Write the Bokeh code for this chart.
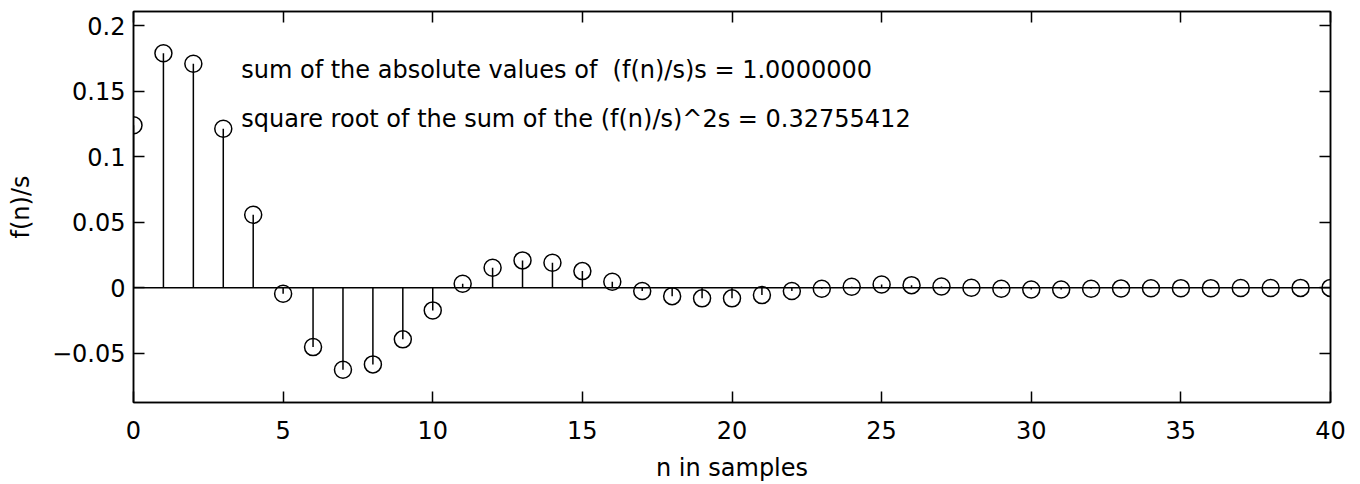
from bokeh.plotting import figure
from bokeh.models import LinearAxis, FixedTicker, CustomJSTickFormatter, Range1d, Label, ColumnDataSource
from bokeh.embed import file_html
from bokeh.resources import INLINE

# ---- data ----
n_samples = list(range(41))
f_over_s = [0.1240, 0.1790, 0.1710, 0.1214, 0.0557, -0.0046, -0.0453, -0.0626, -0.0585, -0.0394,
            -0.0173, 0.0030, 0.0153, 0.0209, 0.0191, 0.0127, 0.0046, -0.0025, -0.0064, -0.0081,
            -0.0081, -0.0056, -0.0025, -0.0008, 0.0008, 0.0025, 0.0020, 0.0010, 0.0000, -0.0008,
            -0.0013, -0.0013, -0.0008, -0.0005, -0.0004, -0.0003, -0.0003, -0.0002, -0.0002, -0.0001,
            -0.0001]
x_ticks = [0, 5, 10, 15, 20, 25, 30, 35, 40]
y_ticks = [-0.05, 0, 0.05, 0.1, 0.15, 0.2]
note_lines = ["sum of the absolute values of \u00a0(f(n)/s)s = 1.0000000",
              "square root of the sum of the (f(n)/s)^2s = 0.32755412"]
note_x = 3.6
note_y = [0.166, 0.129]

FONT = "DejaVu Sans"
FS = "24px"

p = figure(width=1360, height=484, output_backend="svg", toolbar_location=None,
           x_range=Range1d(0, 40), y_range=Range1d(-0.0876, 0.2109),
           min_border_left=133, min_border_right=30, min_border_top=11, min_border_bottom=82,
           x_axis_label="n in samples", y_axis_label="f(n)/s")
p.background_fill_color = "white"
p.border_fill_color = "white"
p.outline_line_color = "black"
p.outline_line_width = 1.5
p.xgrid.visible = False
p.ygrid.visible = False

fmt = CustomJSTickFormatter(code="""
const a = parseFloat(Math.abs(tick).toFixed(4)).toString();
return (tick < -1e-9 ? "\u2212" : "") + a;
""")
blank = CustomJSTickFormatter(code="return '';")

def style_axis(ax, ticks, show_labels=True):
    ax.ticker = FixedTicker(ticks=ticks)
    ax.minor_tick_line_color = None
    ax.major_tick_in = 11
    ax.major_tick_out = 0
    ax.major_tick_line_color = "black"
    ax.major_tick_line_width = 1.5
    ax.axis_line_color = "black"
    ax.axis_line_width = 1.5
    ax.major_label_text_font = FONT
    ax.major_label_text_color = "black"
    ax.major_label_text_font_size = FS
    if show_labels:
        ax.formatter = fmt
    else:
        ax.formatter = blank
        ax.major_label_standoff = 0

style_axis(p.xaxis[0], x_ticks)
style_axis(p.yaxis[0], y_ticks)
p.xaxis[0].major_label_standoff = 18
p.yaxis[0].major_label_standoff = 8
for ax in (p.xaxis[0], p.yaxis[0]):
    ax.axis_label_text_font = FONT
    ax.axis_label_text_font_size = FS
    ax.axis_label_text_font_style = "normal"
    ax.axis_label_text_color = "black"
p.xaxis[0].axis_label_standoff = 12
p.yaxis[0].axis_label_standoff = 14

top_ax = LinearAxis()
style_axis(top_ax, x_ticks, show_labels=False)
p.add_layout(top_ax, "above")
right_ax = LinearAxis()
style_axis(right_ax, y_ticks, show_labels=False)
p.add_layout(right_ax, "right")

src = ColumnDataSource(dict(n=n_samples, v=f_over_s, z=[0] * len(n_samples)))
# zero baseline
p.line(x=[n_samples[0], n_samples[-1]], y=[0, 0], line_color="black", line_width=1.5)
# stems
p.segment(x0="n", y0="z", x1="n", y1="v", source=src, line_color="black", line_width=1.5)
# markers
p.scatter(x="n", y="v", source=src, marker="circle", size=17, fill_color=None,
          line_color="black", line_width=1.5)

for txt, yy in zip(note_lines, note_y):
    p.add_layout(Label(x=note_x, y=yy, text=txt, text_font=FONT, text_font_size=FS,
                       text_baseline="middle", text_align="left", text_color="black"))

open("out.html", "w").write(file_html(p, INLINE))
